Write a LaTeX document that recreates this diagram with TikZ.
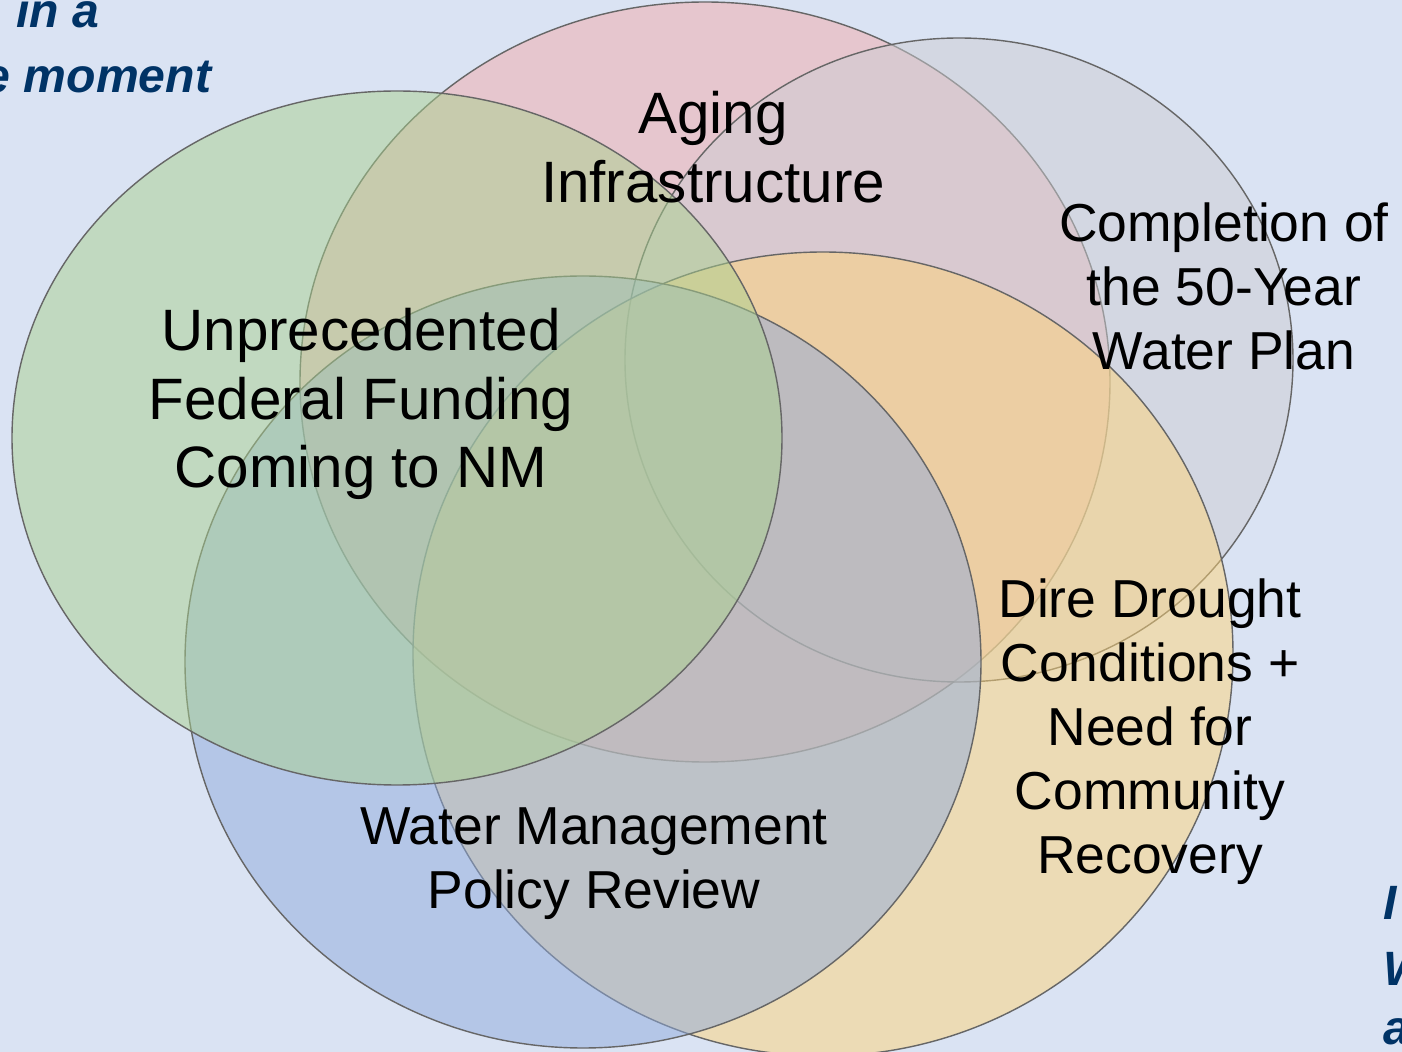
\documentclass[tikz,border=0pt]{standalone}
\usepackage{fontspec}
\setmainfont{Liberation Sans}
\usepackage{tikz}

\definecolor{bgblue}{RGB}{218,227,243}
\definecolor{pinkc}{RGB}{242,170,170}
\definecolor{greyc}{RGB}{205,205,210}
\definecolor{goldc}{RGB}{255,212,120}
\definecolor{bluec}{RGB}{143,170,220}
\definecolor{greenc}{RGB}{169,209,142}
\definecolor{navy}{RGB}{0,51,102}

\tikzset{
  bubble/.style={draw=black!60, line width=0.4pt, fill opacity=0.5},
  label/.style={align=center, font=\fontsize{15.2}{18.2}\selectfont},
  biglabel/.style={align=center, font=\fontsize{16.6}{19.5}\selectfont},
  side/.style={font=\fontsize{13.7}{16}\selectfont\bfseries\itshape, text=navy, inner sep=0pt}
}

\begin{document}
\begin{tikzpicture}[x=0.01cm,y=-0.01cm]

\clip (0,0) rectangle (1402,1052);
\fill [bgblue] (0,0) rectangle (1402,1052);

\draw [bubble, fill=pinkc]  (705,382) ellipse (405 and 380);
\draw [bubble, fill=greyc]  (959,360) ellipse (334 and 322);
\draw [bubble, fill=goldc]  (823,654) ellipse (410 and 402);
\draw [bubble, fill=bluec]  (583,662) ellipse (398 and 386);
\draw [bubble, fill=greenc] (397,438) ellipse (385 and 347);

\node [biglabel] (aging) at (713,147) {Aging\\Infrastructure};
\node [label] (plan) at (1224,286) {Completion of\\the 50-Year\\Water Plan};
\node [biglabel] (funding) at (361,404) {Unprecedented\\Federal Funding\\Coming to NM};
\node [label] (drought) at (1150,732) {Dire Drought\\Conditions +\\Need for\\Community\\Recovery};
\node [label] (policy) at (594,864) {Water Management\\Policy Review};

\node [side, anchor=base east] (ina) at (100,28) {in a};
\node [side, anchor=base east] (moment) at (212,93) {e moment};
\node [side, anchor=base west] (isw) at (1383,920) {I};
\node [side, anchor=base west] (wsw) at (1383,985) {W};
\node [side, anchor=base west] (asw) at (1383,1045) {a};

\end{tikzpicture}
\end{document}
